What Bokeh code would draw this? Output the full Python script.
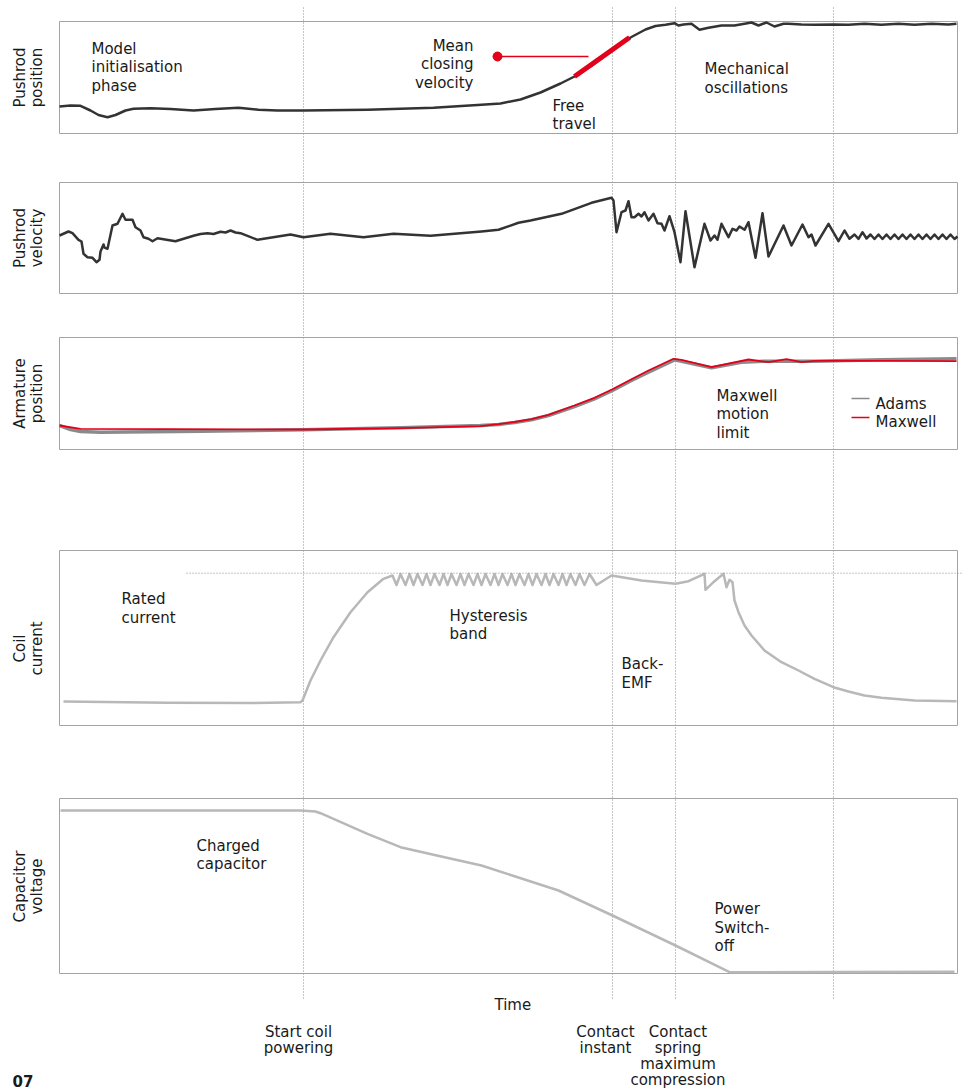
from bokeh.plotting import figure
from bokeh.models import Range1d
from bokeh.embed import file_html
from bokeh.resources import INLINE
from bokeh.core.properties import value
import math

# ---------------- data (time in ms, values in arbitrary units) ----------------
event_t = [24.4, 55.3, 61.6, 77.4]

pos_t = [0.0, 1.1, 2.1, 3.1, 3.9, 4.8, 5.6, 6.6, 7.4, 9.1, 11.1, 13.4, 15.6, 17.9, 19.9,
         21.8, 24.4, 30.8, 37.4, 42.2, 44.1, 46.1, 48.1, 50.1, 51.5, 53.1, 55.3, 57.1,
         58.6, 59.6, 60.6, 61.5, 61.9, 62.4, 63.2, 64.0, 64.9, 66.2, 67.5, 68.5, 69.2,
         69.9, 70.7, 71.5, 72.4, 72.9, 74.2, 75.5, 77.4, 78.9, 80.5, 82.2, 83.9, 85.5,
         87.2, 88.9, 89.7]
pos_v = [2.70, 2.80, 2.77, 2.30, 1.85, 1.63, 1.85, 2.30, 2.47, 2.53, 2.45, 2.30, 2.45,
         2.57, 2.37, 2.30, 2.30, 2.37, 2.57, 2.87, 3.00, 3.40, 4.10, 5.00, 5.70, 6.70,
         8.30, 9.60, 10.40, 10.75, 10.87, 11.03, 10.80, 10.90, 10.97, 10.37, 10.57, 10.80,
         10.80, 10.97, 11.10, 10.80, 11.10, 10.70, 10.97, 10.97, 10.90, 10.87, 10.90,
         10.87, 10.97, 10.87, 10.97, 10.87, 10.97, 10.90, 10.97]

# mean closing velocity marker (on the position trace)
mean_vel_t = [51.5, 57.0]
mean_vel_v = [5.7, 9.6]
mean_vel_callout_t = [43.8, 52.9]
mean_vel_callout_v = 7.7

vel_t = [0.0, 0.9, 1.3, 1.9, 2.2, 2.4, 2.8, 3.3, 3.7, 4.0, 4.1, 4.4, 4.5, 4.8, 5.3, 5.8,
         6.3, 6.6, 7.3, 7.6, 8.1, 8.4, 8.9, 9.3, 9.8, 11.6, 13.4, 14.1, 14.8, 15.4, 16.1,
         16.6, 17.1, 17.6, 18.1, 19.8, 23.1, 24.4, 27.1, 30.4, 33.4, 37.1, 42.2, 43.9,
         45.9, 47.1, 50.2, 53.2, 55.2, 55.4, 55.7, 56.2, 56.6, 56.9, 57.2, 57.5, 57.9,
         58.2, 58.5, 58.9, 59.4, 59.8, 60.2, 60.5, 61.0, 61.5, 62.1, 62.6, 63.5, 64.5,
         65.1, 65.5, 65.8, 66.2, 66.9, 67.3, 67.7, 68.0, 68.5, 68.9, 69.6, 70.3, 70.9,
         72.4, 73.2, 74.3, 74.9, 75.2, 75.6, 76.9, 77.9, 78.5, 79.0, 79.5, 79.9, 80.3,
         80.7, 81.1, 81.5, 81.9, 82.3, 82.7, 83.1, 83.5, 83.9, 84.3, 84.7, 85.1, 85.5,
         85.9, 86.3, 86.7, 87.1, 87.5, 87.9, 88.3, 88.7, 89.1, 89.5, 89.8]
vel_v = [0.25, 0.65, 0.48, -0.18, -0.35, -1.58, -1.92, -1.98, -2.42, -2.18, -1.35, -0.65,
         -0.95, -1.08, 1.25, 1.42, 2.42, 1.82, 1.82, 1.08, 0.75, 0.08, -0.08, -0.32, -0.02,
         -0.32, 0.22, 0.40, 0.48, 0.40, 0.62, 0.55, 0.75, 0.55, 0.48, -0.18, 0.35, 0.08,
         0.42, 0.08, 0.42, 0.22, 0.65, 0.82, 1.52, 1.75, 2.42, 3.52, 4.02, 3.75, 0.58,
         2.58, 2.75, 3.68, 2.08, 2.08, 2.42, 2.15, 2.58, 1.75, 2.42, 1.48, 1.42, 0.75,
         2.18, 0.58, -2.42, 2.68, -2.92, 1.42, -0.25, 0.25, -0.18, 1.42, 0.08, 0.92, 0.75,
         1.15, 0.82, 1.58, -1.98, 2.48, -1.85, 1.25, -0.75, 1.35, 0.08, 0.35, -0.75, 1.42,
         -0.32, 0.75, -0.08, 0.35, -0.08, 0.58, -0.05, 0.35, -0.10, 0.35, -0.10, 0.35,
         -0.10, 0.35, -0.10, 0.35, -0.10, 0.35, -0.10, 0.35, -0.10, 0.35, -0.10, 0.35,
         -0.10, 0.35, -0.10, 0.35, -0.10, 0.15]

adams_t = [0.0, 1.1, 2.1, 4.1, 14.1, 24.4, 34.1, 42.1, 43.9, 45.5, 47.2, 48.9, 51.5, 53.5,
           55.3, 57.2, 58.9, 61.5, 62.2, 65.2, 68.2, 70.5, 75.5, 82.2, 89.7]
adams_v = [2.40, 2.00, 1.80, 1.73, 1.83, 1.97, 2.17, 2.40, 2.50, 2.70, 2.97, 3.40, 4.30,
           5.07, 5.90, 6.90, 7.73, 8.97, 8.83, 8.17, 8.73, 8.83, 8.83, 8.97, 9.07]
maxwell_t = [0.0, 2.1, 10.8, 24.4, 34.1, 42.1, 43.9, 45.5, 47.2, 48.9, 51.5, 53.5, 55.3,
             57.2, 58.9, 61.4, 62.2, 65.2, 68.9, 70.9, 72.7, 74.2, 75.5, 82.2, 89.7]
maxwell_v = [2.40, 2.07, 2.03, 2.00, 2.13, 2.33, 2.53, 2.75, 3.03, 3.47, 4.40, 5.17, 6.03,
             7.03, 7.90, 9.07, 8.97, 8.23, 9.00, 8.73, 9.03, 8.73, 8.87, 8.87, 8.83]

rated_current = 15.23
rated_from_t = 12.7

cur_t = [0.4, 10.8, 19.1, 24.1, 24.3, 25.1, 26.1, 27.4, 29.1, 30.8, 32.4, 33.3,
         33.7, 34.1, 34.6, 35.0, 35.4, 35.8, 36.3, 36.7, 37.1, 37.5, 38.0, 38.4, 38.8,
         39.2, 39.7, 40.1, 40.5, 40.9, 41.4, 41.8, 42.2, 42.6, 43.1, 43.5, 43.9, 44.3,
         44.8, 45.2, 45.6, 46.0, 46.5, 46.9, 47.3, 47.7, 48.2, 48.6, 49.0, 49.4, 49.9,
         50.3, 50.7, 51.1, 51.6, 52.0, 52.5, 53.0, 53.7,
         55.2, 58.2, 61.6, 62.9, 64.5, 64.6, 65.5, 66.4, 66.7, 67.0, 67.3, 67.5, 67.9,
         68.5, 69.2, 70.5, 72.2, 73.9, 75.5, 77.4, 78.9, 80.5, 82.2, 85.5, 89.7]
cur_v = [2.40, 2.27, 2.25, 2.33, 2.50, 4.50, 6.50, 8.83, 11.33, 13.33, 14.67, 15.00,
         14.05, 15.15, 14.05, 15.15, 14.05, 15.15, 14.05, 15.15, 14.05, 15.15, 14.05,
         15.15, 14.05, 15.15, 14.05, 15.15, 14.05, 15.15, 14.05, 15.15, 14.05, 15.15,
         14.05, 15.15, 14.05, 15.15, 14.05, 15.15, 14.05, 15.15, 14.05, 15.15, 14.05,
         15.15, 14.05, 15.15, 14.05, 15.15, 14.05, 15.15, 14.05, 15.15, 14.05, 15.15,
         14.05, 15.15, 14.05,
         15.00, 14.50, 14.17, 14.43, 15.17, 13.57, 14.43, 15.17, 13.83, 14.57, 14.33,
         12.50, 11.33, 10.00, 9.00, 7.50, 6.33, 5.50, 4.67, 3.83, 3.40, 3.00, 2.77,
         2.50, 2.43]

cap_t = [0.1, 24.1, 25.6, 26.1, 27.4, 30.8, 34.1, 37.4, 42.2, 49.9, 55.3, 61.6, 67.0,
         77.4, 89.5]
cap_v = [16.30, 16.30, 16.20, 16.03, 15.47, 13.97, 12.63, 11.87, 10.80, 8.30, 5.80, 2.80,
         0.13, 0.15, 0.17]

# ---------------- layout / style ----------------
T0, T1 = 0.0, 89.8
FONT = value("DejaVu Sans")
FS = "15px"
INK = "#1a1a1a"
DARK = "#333333"
LIGHT = "#b8b8b8"
RED = "#e2001a"
DOT = "#8c8c8c"
FRAME = "#a3a3a3"

W, H = 962, 1089
PAGE_TOP, PAGE_BOT = 0, H

# key, top px, bottom px, low, high, axis label lines, label centre
PANELS = [
    ("pos", 21, 133, 0.0, 11.2, ["Pushrod", "position"], 77),
    ("vel", 182, 293, -5.55, 5.55, ["Pushrod", "velocity"], 237.5),
    ("arm", 337, 449, 0.0, 11.2, ["Armature", "position"], 393),
    ("cur", 550, 725, 0.0, 17.5, ["Coil", "current"], 648),
    ("cap", 798, 973, 0.0, 17.5, ["Capacitor", "voltage"], 886),
]

p = figure(width=W, height=H, output_backend="svg", toolbar_location=None,
           x_range=Range1d(-5.9, 90.3), y_range=Range1d(PAGE_BOT, PAGE_TOP),
           x_axis_location=None, y_axis_location=None, min_border=0,
           outline_line_color=None, background_fill_color="white",
           border_fill_color="white")
p.grid.visible = False

for key, top, bot, lo, hi, lab, laby in PANELS:
    k = (bot - top) / (hi - lo)
    p.extra_y_ranges[key] = Range1d(lo + (bot - PAGE_BOT) / k, lo + (bot - PAGE_TOP) / k)

# event lines
p.segment(x0=event_t, x1=event_t, y0=[7] * 4, y1=[998] * 4, line_color=DOT,
          line_dash="1 2", line_width=1)

# panel frames and axis labels
for key, top, bot, lo, hi, lab, laby in PANELS:
    p.quad(left=[T0], right=[T1], bottom=[lo], top=[hi], y_range_name=key,
           fill_color=None, line_color=FRAME, line_width=1)
    p.text(x=[-3.95, -2.3], y=[laby, laby], text=lab, angle=math.pi / 2,
           text_align="center", text_baseline="alphabetic", text_font=FONT,
           text_font_size=FS, text_color=INK)

# traces
p.line(pos_t, pos_v, y_range_name="pos", line_color=DARK, line_width=2.5, line_join="round")
p.line(vel_t, vel_v, y_range_name="vel", line_color=DARK, line_width=2.5, line_join="round")
p.line(adams_t, adams_v, y_range_name="arm", line_color="#8a8a8a", line_width=3.5, line_join="round")
p.line(maxwell_t, maxwell_v, y_range_name="arm", line_color=RED, line_width=1.8, line_join="round")
p.line(cur_t, cur_v, y_range_name="cur", line_color=LIGHT, line_width=2.5, line_join="round")
p.line(cap_t, cap_v, y_range_name="cap", line_color=LIGHT, line_width=2.5, line_join="round")

# rated current reference line
p.segment(x0=[rated_from_t], x1=[95], y0=[rated_current], y1=[rated_current],
          y_range_name="cur", line_color=DOT, line_dash="1 2", line_width=1)

# mean closing velocity marker
p.line(mean_vel_t, mean_vel_v, y_range_name="pos", line_color=RED, line_width=5)
p.line(mean_vel_callout_t, [mean_vel_callout_v] * 2, y_range_name="pos",
       line_color=RED, line_width=1.5)
p.scatter([mean_vel_callout_t[0]], [mean_vel_callout_v], y_range_name="pos", size=9,
          fill_color=RED, line_color=RED)

# legend (armature panel)
p.segment(x0=[79.2, 79.2], x1=[81.0, 81.0], y0=[5.1, 3.2], y1=[5.1, 3.2],
          y_range_name="arm", line_color=["#8a8a8a", RED], line_width=1.5)
p.text(x=[81.6, 81.6], y=[403.5, 421.5], text=["Adams", "Maxwell"], text_font=FONT,
       text_font_size=FS, text_color=INK, text_baseline="alphabetic")


def note(lines, t, y0, dy=18.7, align="left"):
    p.text(x=[t] * len(lines), y=[y0 + i * dy for i in range(len(lines))], text=lines,
           text_align=align, text_baseline="alphabetic", text_font=FONT,
           text_font_size=FS, text_color=INK)


note(["Model", "initialisation", "phase"], 3.2, 48)
note(["Mean", "closing", "velocity"], 41.4, 45, align="right")
note(["Free", "travel"], 49.3, 105)
note(["Mechanical", "oscillations"], 64.5, 68.5)
note(["Maxwell", "motion", "limit"], 65.7, 395)
note(["Rated", "current"], 6.2, 598.5)
note(["Hysteresis", "band"], 39.0, 615)
note(["Back-", "EMF"], 56.2, 663.5)
note(["Charged", "capacitor"], 13.7, 845)
note(["Power", "Switch-", "off"], 65.5, 908.5)
note(["Time"], 43.5, 1004)
note(["Start coil", "powering"], 23.9, 1031, dy=16, align="center")
note(["Contact", "instant"], 54.6, 1031, dy=16, align="center")
note(["Contact", "spring", "maximum", "compression"], 61.85, 1031, dy=16, align="center")

p.text(x=[-4.7], y=[1080], text=["07"], text_font=FONT, text_font_size=FS,
       text_font_style="bold", text_color=INK, text_baseline="alphabetic")

open("out.html", "w").write(file_html(p, INLINE))
